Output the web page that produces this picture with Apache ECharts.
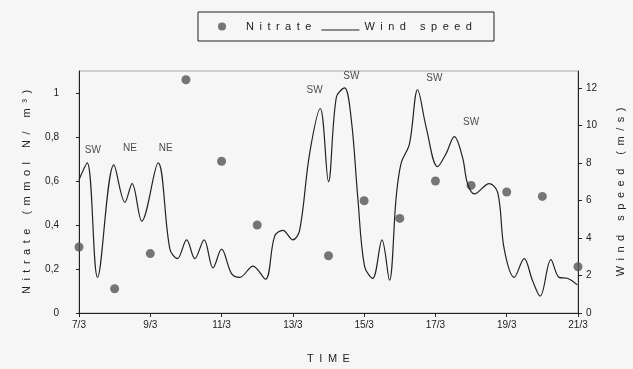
<!DOCTYPE html>
<html>
<head>
<meta charset="utf-8">
<script src="https://cdn.jsdelivr.net/npm/echarts@6/dist/echarts.min.js"></script>
<style>
  html, body { margin: 0; padding: 0; background: #f6f6f6; }
  #chart { width: 633px; height: 369px; }
</style>
</head>
<body>
<div id="chart"></div>
<script>
// nitrate samples (mmol N/m3), one per day of March
const nitDays = [7, 8, 9, 10, 11, 12, 14, 15, 16, 17, 18, 19, 20, 21];
const nitVals = [0.30, 0.11, 0.27, 1.06, 0.69, 0.40, 0.26, 0.51, 0.43, 0.60, 0.58, 0.55, 0.53, 0.21];

// wind speed trace (m/s)
const windDays = [7.0, 7.23, 7.52, 7.98, 8.29, 8.49, 8.76, 9.22, 9.55, 9.76,
  10.02, 10.25, 10.51, 10.76, 11.0, 11.28, 11.51, 11.88, 12.23, 12.49,
  12.72, 13.0, 13.19, 13.47, 13.77, 14.0, 14.22, 14.45, 14.64, 14.82,
  15.01, 15.24, 15.5, 15.71, 15.9, 16.04, 16.27, 16.5, 16.74, 17.06,
  17.3, 17.53, 17.76, 17.9, 18.09, 18.51, 18.75, 18.93, 19.21, 19.49,
  19.72, 19.94, 20.24, 20.47, 20.7, 20.98];
const windVals = [7.1, 8.0, 1.9, 7.9, 5.9, 6.9, 4.9, 8.0, 3.4, 2.9,
  3.9, 2.9, 3.9, 2.4, 3.4, 2.1, 1.9, 2.5, 1.8, 4.1,
  4.4, 3.9, 4.4, 8.5, 10.9, 7.0, 11.5, 12.0, 10.3, 6.2,
  2.5, 1.85, 3.9, 1.75, 6.2, 8.0, 9.0, 11.9, 9.9, 7.8,
  8.5, 9.4, 8.3, 6.9, 6.35, 6.9, 6.4, 3.4, 1.9, 2.9,
  1.75, 0.9, 2.85, 1.9, 1.85, 1.5];

// wind direction notes, placed on the wind axis
const noteDays = [7.39, 8.43, 9.43, 13.61, 14.64, 16.97, 18.0];
const noteVals = [8.7, 8.76, 8.8, 11.86, 12.6, 12.5, 10.15];
const noteText = ['SW', 'NE', 'NE', 'SW', 'SW', 'SW', 'SW'];

// old plotting software spread its letters out
const spaced = s => s.split('').join('\u2002');
const font = 'Liberation Sans';

let chart = echarts.init(document.getElementById('chart'));
let option = {
  backgroundColor: '#f6f6f6',
  textStyle: { fontFamily: font },
  animation: false,
  legend: {
    left: 198,
    top: 12,
    padding: [9, 22, 9, 20],
    borderColor: '#222',
    borderWidth: 1,
    itemWidth: 38,
    itemHeight: 8,
    itemGap: 10,
    textStyle: { color: '#222', fontSize: 11, fontFamily: font },
    formatter: name => spaced(name),
    data: [
      { name: 'Nitrate', icon: 'circle' },
      // thin line sitting at the bottom of the icon box
      { name: 'Wind speed', icon: 'path://M0,0L0.05,0L0.05,0.05L0,0.05Z M0,7L38,7L38,8L0,8Z' }
    ]
  },
  grid: {
    left: 79,
    right: 55,
    top: 71,
    bottom: 56,
    outerBoundsMode: 'none',
    show: true,
    borderColor: '#aaa',
    borderWidth: 1
  },
  xAxis: {
    type: 'value',
    min: 7,
    max: 21,
    interval: 2,
    name: spaced('TIME'),
    nameLocation: 'middle',
    nameGap: 40,
    nameTextStyle: { color: '#222', fontSize: 11 },
    axisLine: { lineStyle: { color: '#222' } },
    axisTick: { length: 4, lineStyle: { color: '#222' } },
    axisLabel: { color: '#222', fontSize: 10, margin: 7, formatter: v => v + '/3' },
    splitLine: { show: false }
  },
  yAxis: [
    {
      type: 'value',
      min: 0,
      max: 1.1,
      interval: 0.2,
      name: spaced('Nitrate (mmol N/ m³)'),
      nameLocation: 'middle',
      nameGap: 47,
      nameRotate: 90,
      nameTextStyle: { color: '#222', fontSize: 11 },
      axisLine: { show: true, lineStyle: { color: '#222' } },
      axisTick: { show: true, length: 3, lineStyle: { color: '#222' } },
      axisLabel: {
        color: '#222', fontSize: 10, margin: 20, showMaxLabel: false,
        formatter: v => String(Math.round(v * 10) / 10).replace('.', ',')
      },
      splitLine: { show: false }
    },
    {
      type: 'value',
      min: 0,
      max: 12.9,
      interval: 2,
      position: 'right',
      name: spaced('Wind speed (m/s)'),
      nameLocation: 'middle',
      nameGap: 37,
      nameRotate: 90,
      nameTextStyle: { color: '#222', fontSize: 11 },
      axisLine: { show: true, lineStyle: { color: '#222' } },
      axisTick: { show: true, length: 4, lineStyle: { color: '#222' } },
      axisLabel: { color: '#222', fontSize: 10, margin: 8, showMaxLabel: false },
      splitLine: { show: false }
    }
  ],
  series: [
    {
      name: 'Nitrate',
      type: 'scatter',
      yAxisIndex: 0,
      symbolSize: 9,
      clip: false,
      itemStyle: { color: '#555' },
      data: nitDays.map((d, i) => [d, nitVals[i]])
    },
    {
      name: 'Wind speed',
      type: 'line',
      yAxisIndex: 1,
      symbol: 'none',
      smooth: 0.35,
      lineStyle: { color: '#222', width: 1.2 },
      itemStyle: { color: '#222' },
      data: windDays.map((d, i) => [d, windVals[i]])
    },
    {
      name: 'notes',
      type: 'scatter',
      yAxisIndex: 1,
      symbolSize: 0,
      silent: true,
      label: {
        show: true,
        position: 'inside',
        color: '#222',
        fontSize: 10,
        formatter: p => noteText[p.dataIndex]
      },
      data: noteDays.map((d, i) => [d, noteVals[i]])
    }
  ]
};
chart.setOption(option);
</script>
</body>
</html>
